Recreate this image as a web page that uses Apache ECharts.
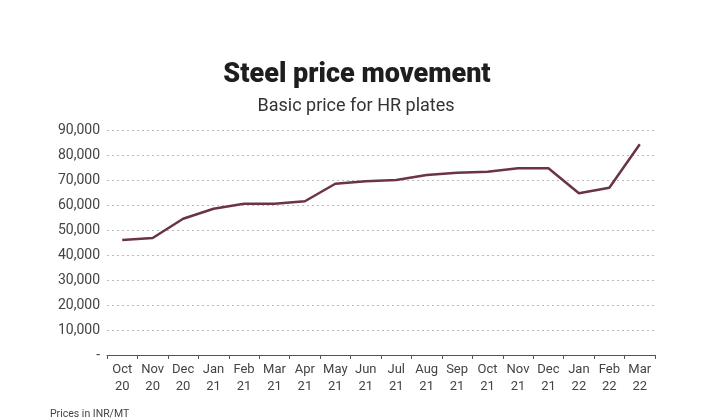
<!DOCTYPE html>
<html><head><meta charset="utf-8">
<script src="https://cdn.jsdelivr.net/npm/echarts@6/dist/echarts.min.js"></script>
<style>html,body{margin:0;padding:0;background:#fff}#c{width:708px;height:420px}</style>
</head><body><div id="c"></div>
<script>
const categories = ['Oct\n20','Nov\n20','Dec\n20','Jan\n21','Feb\n21','Mar\n21','Apr\n21','May\n21','Jun\n21','Jul\n21','Aug\n21','Sep\n21','Oct\n21','Nov\n21','Dec\n21','Jan\n22','Feb\n22','Mar\n22'];
const prices = [46000,46800,54500,58500,60500,60500,61500,68500,69500,70000,72000,72900,73300,74700,74700,64700,66900,84300];
const chart = echarts.init(document.getElementById('c'));
chart.setOption({
  animation:false,
  title:[
    {text:'Steel price movement',left:352,top:57,textAlign:'center',textStyle:{fontFamily:'Roboto',fontWeight:900,fontSize:27,color:'#1e1e1e'}},
    {text:'Basic price for HR plates',left:351,top:92,textAlign:'center',textStyle:{fontFamily:'Roboto',fontWeight:'normal',fontSize:18,color:'#333'}},
    {text:'Prices in INR/MT',left:45,top:404,textStyle:{fontFamily:'Roboto',fontWeight:'normal',fontSize:10.5,color:'#444'}}
  ],
  grid:{left:107,right:53,top:130,bottom:65},
  xAxis:{type:'category',data:categories,boundaryGap:true,
    axisLine:{lineStyle:{color:'#555',width:1}},
    axisTick:{show:true,length:4,lineStyle:{color:'#555'}},
    axisLabel:{fontFamily:'Roboto',fontSize:13,color:'#444',lineHeight:17,margin:6,interval:0}},
  yAxis:{type:'value',min:0,max:90000,interval:10000,
    axisLine:{show:false},axisTick:{show:false},
    splitLine:{lineStyle:{color:'#bbb',type:[2,3],width:1}},
    axisLabel:{fontFamily:'Roboto',fontSize:14,color:'#444',margin:7,
      formatter:v=>v===0?'-':v.toLocaleString('en-US')}},
  series:[{type:'line',data:prices,symbol:'none',lineStyle:{color:'#6a3443',width:2.5}}]
});
</script></body></html>
